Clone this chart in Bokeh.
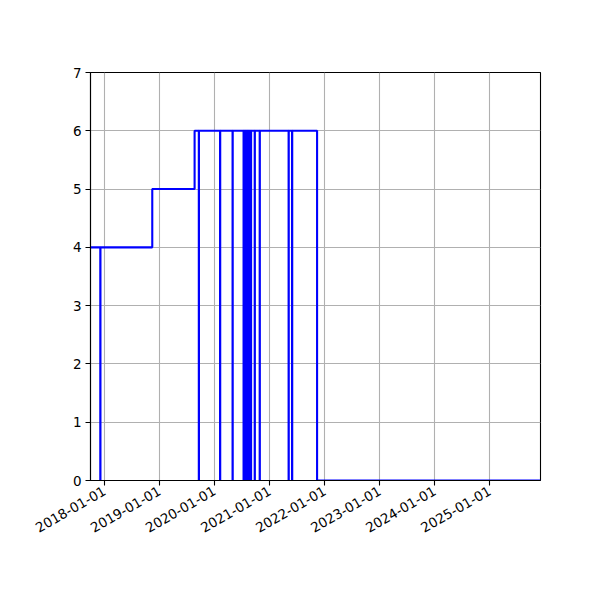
import math
from datetime import datetime, timezone
from bokeh.plotting import figure
from bokeh.models import FixedTicker, DatetimeTickFormatter, Range1d
from bokeh.embed import file_html
from bokeh.resources import INLINE

# step series: date where value changes, and new value (steps-post)
change_dates = [
    "2017-09-30", "2017-12-04", "2017-12-05", "2018-11-14", "2019-08-22",
    "2019-09-19", "2019-09-20", "2020-02-07", "2020-02-08", "2020-04-30", "2020-05-01",
    "2020-07-12", "2020-07-13", "2020-07-19", "2020-07-20", "2020-07-26", "2020-07-27",
    "2020-08-02", "2020-08-03", "2020-08-09", "2020-08-10", "2020-08-16", "2020-08-17",
    "2020-08-23", "2020-08-24", "2020-08-30", "2020-08-31",
    "2020-09-24", "2020-09-25", "2020-10-27", "2020-10-28",
    "2021-05-07", "2021-05-08", "2021-05-30", "2021-05-31",
    "2021-11-12", "2025-12-04",
]
change_values = [
    4, 0, 4, 5, 6,
    0, 6, 0, 6, 0, 6,
    0, 6, 0, 6, 0, 6,
    0, 6, 0, 6, 0, 6,
    0, 6, 0, 6,
    0, 6, 0, 6,
    0, 6, 0, 6,
    0, 0,
]
year_ticks = ["2018-01-01", "2019-01-01", "2020-01-01", "2021-01-01",
              "2022-01-01", "2023-01-01", "2024-01-01", "2025-01-01"]
y_ticks = [0, 1, 2, 3, 4, 5, 6, 7]


def to_dt(s):
    return datetime.strptime(s, "%Y-%m-%d").replace(tzinfo=timezone.utc)


x = [to_dt(d) for d in change_dates]
tick_ms = [to_dt(d).timestamp() * 1000 for d in year_ticks]

p = figure(x_axis_type="datetime", output_backend="svg", toolbar_location=None,
           frame_width=450, frame_height=408,
           min_border_left=90, min_border_right=60, min_border_top=72, min_border_bottom=120,
           x_range=Range1d(x[0], x[-1]), y_range=Range1d(0, 7))
p.background_fill_color = "white"
p.border_fill_color = "white"
p.outline_line_color = "black"
p.outline_line_alpha = 1
p.outline_line_width = 1.1

p.step(x, change_values, mode="after", line_color="#0000ff", line_width=2.1)

p.xaxis.ticker = FixedTicker(ticks=tick_ms)
p.xaxis.formatter = DatetimeTickFormatter(days="%Y-%m-%d", months="%Y-%m-%d", years="%Y-%m-%d")
p.xaxis.major_label_orientation = math.pi / 6
p.yaxis.ticker = FixedTicker(ticks=y_ticks)

for ax in (p.xaxis, p.yaxis):
    ax.axis_line_color = "black"
    ax.axis_line_width = 1.1
    ax.major_tick_line_color = "black"
    ax.major_tick_line_width = 1.1
    ax.major_tick_out = 5
    ax.major_tick_in = 0
    ax.minor_tick_line_color = None
    ax.major_label_text_font = "DejaVu Sans"
    ax.major_label_text_font_size = "13.5px"
    ax.major_label_text_color = "black"
    ax.major_label_standoff = 4

for g in (p.xgrid, p.ygrid):
    g.grid_line_color = "#b0b0b0"
    g.grid_line_width = 1.1
    g.grid_line_alpha = 1

open("out.html", "w").write(file_html(p, INLINE))
